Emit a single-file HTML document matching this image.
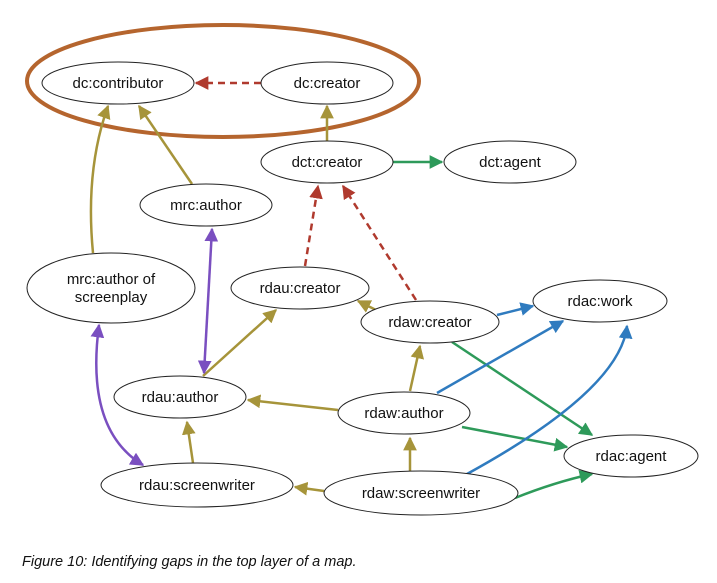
<!DOCTYPE html>
<html><head><meta charset="utf-8"><style>
html,body{margin:0;padding:0;background:#fff;}
svg{display:block;}
text{font-family:"Liberation Sans",sans-serif;}
</style></head><body>
<svg width="717" height="583" viewBox="0 0 717 583" xmlns="http://www.w3.org/2000/svg">
<defs>
<marker id="ao" viewBox="0 0 10 10" refX="9" refY="5" markerWidth="5.5" markerHeight="5.5" orient="auto-start-reverse"><path d="M0,0 L10,5 L0,10 z" fill="#a6943a"/></marker>
<marker id="ar" viewBox="0 0 10 10" refX="9" refY="5" markerWidth="5.5" markerHeight="5.5" orient="auto-start-reverse"><path d="M0,0 L10,5 L0,10 z" fill="#b03a2e"/></marker>
<marker id="ag" viewBox="0 0 10 10" refX="9" refY="5" markerWidth="5.5" markerHeight="5.5" orient="auto-start-reverse"><path d="M0,0 L10,5 L0,10 z" fill="#2e9a5a"/></marker>
<marker id="ab" viewBox="0 0 10 10" refX="9" refY="5" markerWidth="5.5" markerHeight="5.5" orient="auto-start-reverse"><path d="M0,0 L10,5 L0,10 z" fill="#2f7bbf"/></marker>
<marker id="ap" viewBox="0 0 10 10" refX="9" refY="5" markerWidth="5.5" markerHeight="5.5" orient="auto-start-reverse"><path d="M0,0 L10,5 L0,10 z" fill="#7a4fc0"/></marker>
</defs>
<ellipse cx="223" cy="81" rx="196" ry="56" fill="none" stroke="#b5652e" stroke-width="4"/>
<g fill="none" stroke-width="2.5">
<path d="M261,83 L196,83" stroke="#b03a2e" stroke-dasharray="7,5" marker-end="url(#ar)"/>
<path d="M327,141 L327,106" stroke="#a6943a" marker-end="url(#ao)"/>
<path d="M392,162 L442,162" stroke="#2e9a5a" marker-end="url(#ag)"/>
<path d="M192,184 L139,106" stroke="#a6943a" marker-end="url(#ao)"/>
<path d="M93,253 Q85,170 108,106" stroke="#a6943a" marker-end="url(#ao)"/>
<path d="M305,266 L318,186" stroke="#b03a2e" stroke-dasharray="7,5" marker-end="url(#ar)"/>
<path d="M416,300 L343,186" stroke="#b03a2e" stroke-dasharray="7,5" marker-end="url(#ar)"/>
<path d="M376,310 L358,301" stroke="#a6943a" marker-end="url(#ao)"/>
<path d="M497,315 L533,306" stroke="#2f7bbf" marker-end="url(#ab)"/>
<path d="M452,342 L592,435" stroke="#2e9a5a" marker-end="url(#ag)"/>
<path d="M203,376 L276,310" stroke="#a6943a" marker-end="url(#ao)"/>
<path d="M212,229 L204,373" stroke="#7a4fc0" marker-start="url(#ap)" marker-end="url(#ap)"/>
<path d="M99,325 Q85,430 143,465" stroke="#7a4fc0" marker-start="url(#ap)" marker-end="url(#ap)"/>
<path d="M338,410 L248,400" stroke="#a6943a" marker-end="url(#ao)"/>
<path d="M410,391 L420,346" stroke="#a6943a" marker-end="url(#ao)"/>
<path d="M437,393 L563,321" stroke="#2f7bbf" marker-end="url(#ab)"/>
<path d="M462,427 L567,447" stroke="#2e9a5a" marker-end="url(#ag)"/>
<path d="M410,471 L410,438" stroke="#a6943a" marker-end="url(#ao)"/>
<path d="M324,491 L295,487" stroke="#a6943a" marker-end="url(#ao)"/>
<path d="M515,498 Q555,482 592,474" stroke="#2e9a5a" marker-end="url(#ag)"/>
<path d="M467,474 Q620,390 627,326" stroke="#2f7bbf" marker-end="url(#ab)"/>
<path d="M193,463 L187,422" stroke="#a6943a" marker-end="url(#ao)"/>
</g>
<g fill="#fff" stroke="#222" stroke-width="1">
<ellipse cx="118" cy="83" rx="76" ry="21"/>
<ellipse cx="327" cy="83" rx="66" ry="21"/>
<ellipse cx="327" cy="162" rx="66" ry="21"/>
<ellipse cx="510" cy="162" rx="66" ry="21"/>
<ellipse cx="206" cy="205" rx="66" ry="21"/>
<ellipse cx="111" cy="288" rx="84" ry="35"/>
<ellipse cx="300" cy="288" rx="69" ry="21"/>
<ellipse cx="600" cy="301" rx="67" ry="21"/>
<ellipse cx="430" cy="322" rx="69" ry="21"/>
<ellipse cx="180" cy="397" rx="66" ry="21"/>
<ellipse cx="404" cy="413" rx="66" ry="21"/>
<ellipse cx="631" cy="456" rx="67" ry="21"/>
<ellipse cx="197" cy="485" rx="96" ry="22"/>
<ellipse cx="421" cy="493" rx="97" ry="22"/>
</g>
<g font-size="15" fill="#111" text-anchor="middle">
<text x="118" y="88">dc:contributor</text>
<text x="327" y="88">dc:creator</text>
<text x="327" y="167">dct:creator</text>
<text x="510" y="167">dct:agent</text>
<text x="206" y="210">mrc:author</text>
<text x="111" y="284">mrc:author of</text>
<text x="111" y="302">screenplay</text>
<text x="300" y="293">rdau:creator</text>
<text x="600" y="306">rdac:work</text>
<text x="430" y="327">rdaw:creator</text>
<text x="180" y="402">rdau:author</text>
<text x="404" y="418">rdaw:author</text>
<text x="631" y="461">rdac:agent</text>
<text x="197" y="490">rdau:screenwriter</text>
<text x="421" y="498">rdaw:screenwriter</text>
</g>
<text x="22" y="566" font-size="14.5" font-style="italic" fill="#111">Figure 10: Identifying gaps in the top layer of a map.</text>
</svg>
</body></html>
